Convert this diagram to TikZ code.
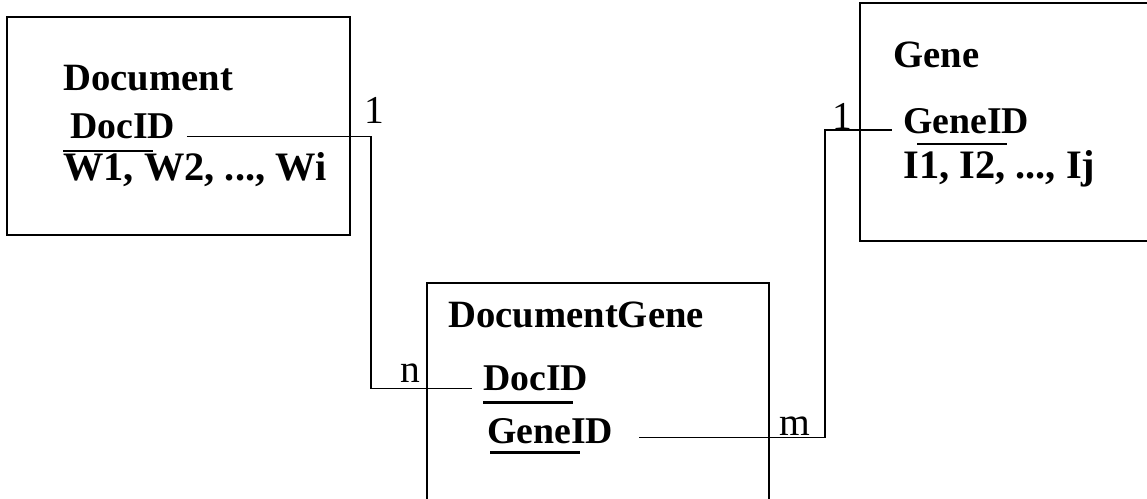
\documentclass[tikz,border=0pt]{standalone}
\usepackage{fontspec}
\setmainfont{Liberation Serif}
\usetikzlibrary{calc}

\tikzset{
  entity/.style={draw, line width=0.6pt},
  title/.style={font=\bfseries\fontsize{22}{24}\selectfont, anchor=base west, inner sep=0pt},
  attr/.style={font=\bfseries\fontsize{23}{26}\selectfont, anchor=base west, inner sep=0pt},
  keyfield/.style={font=\bfseries\fontsize{21.5}{24}\selectfont, anchor=base west, inner xsep=6.5pt, inner ysep=0pt},
  card/.style={font=\fontsize{22.5}{24}\selectfont, anchor=base west, inner sep=0pt},
  link/.style={line width=0.6pt},
  keyline/.style={line width=1.7pt},
}

\begin{document}
\begin{tikzpicture}[x=0.02cm, y=-0.02cm]
  \useasboundingbox (0,0) rectangle (1147,498);
  \clip (0,0) rectangle (1147,498);

  % Entity boxes (Gene runs off the right edge, DocumentGene off the bottom)
  \draw[entity] (7,17) rectangle (350,235);
  \draw[entity] (860,3) rectangle (1160,241);
  \draw[entity] (427,510) -- (427,283) -- (769,283) -- (769,510);

  % Document
  \node[title] (doctitle) at (63,90) {Document};
  \node[keyfield] (docid) at (58.5,138) {DocID};
  \node[attr] (docwords) at (63,180) {W1, W2, ..., Wi};
  \draw[keyline] (63,151) -- (153,151);

  % Gene
  \node[title] (genetitle) at (893,67) {Gene};
  \node[keyfield] (geneid) at (891.5,133) {GeneID};
  \node[attr] (geneitems) at (903,178) {I1, I2, ..., Ij};
  \draw[keyline] (917,144) -- (1007,144);

  % DocumentGene
  \node[title] (dgtitle) at (448,327) {DocumentGene};
  \node[keyfield] (dgdocid) at (471.5,390) {DocID};
  \node[keyfield] (dggeneid) at (475.5,443) {GeneID};
  \draw[keyline] (483,402) -- (573,402);
  \draw[keyline] (490,452) -- (580,452);

  % Relationships
  \coordinate (docbend) at (371,250);
  \coordinate (genebend) at (825,250);
  \draw[link] ([yshift=1.1pt]docid.base east) -| (docbend)
    |- ([yshift=1.1pt]dgdocid.base west);
  \draw[link] ([xshift=8pt,yshift=3.4pt]dggeneid.base east) -| (genebend)
    |- ([yshift=1.7pt]geneid.base west);

  % Cardinalities
  \node[card] (docone) at (364,123) {1};
  \node[card] (geneone) at (832,129) {1};
  \node[card] (dgn) at (400,382) {n};
  \node[card] (dgm) at (779,435) {m};

\end{tikzpicture}
\end{document}
